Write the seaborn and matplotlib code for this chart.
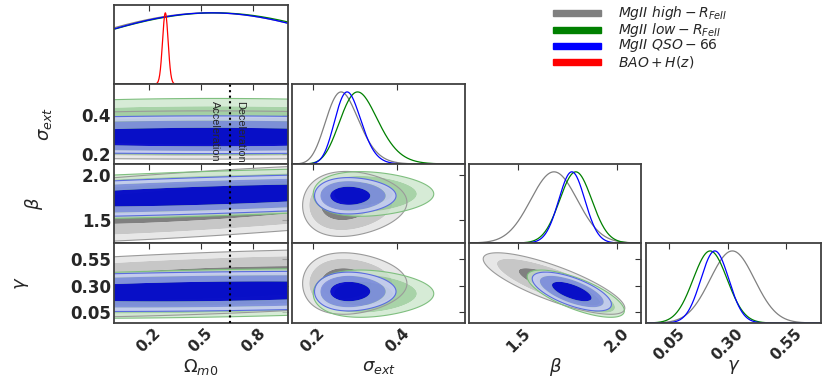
import numpy as np
import matplotlib
matplotlib.use("Agg")
import matplotlib.pyplot as plt
import seaborn as sns
from matplotlib.patches import Rectangle

# --- parameters of the triangle plot ---
param_labels = [r"$\Omega_{m0}$", r"$\sigma_{ext}$", r"$\beta$", r"$\gamma$"]
param_ranges = [(0.0, 1.0), (0.15, 0.56), (1.25, 2.12), (-0.05, 0.70)]
param_ticks = [[0.2, 0.5, 0.8], [0.2, 0.4], [1.5, 2.0], [0.05, 0.30, 0.55]]
tick_fmt = ["%.1f", "%.1f", "%.1f", "%.2f"]

# --- data sets (drawn in this order) ---
set_labels = [r"$MgII\ high-R_{FeII}$", r"$MgII\ low-R_{FeII}$", r"$MgII\ QSO-66$"]
line_colors = ["#808080", "#008000", "#0000ff"]
fill_colors = [["#606060", "#b9b9b9", "#e2e2e2"],
               ["#4fa04f", "#93c993", "#cce6cc"],
               ["#0000d4", "#808ee3", "#c6ccf4"]]
edge_colors = ["#9a9a9a", "#7fbf7f", "#5a6be0"]
fill_alpha = [0.8, 0.8, 0.9]

# Omega_m0 is barely constrained
om_mean = [0.55, 0.58, 0.56]
om_sd = [0.80, 0.80, 0.78]
# sigma_ext: median and log-width
sig_med = [0.272, 0.312, 0.284]
sig_logsd = [0.145, 0.146, 0.110]
beta_mean = [1.68, 1.79, 1.77]
beta_sd = [0.118, 0.081, 0.066]
gamma_mean = [0.32, 0.225, 0.245]
gamma_sd = [0.095, 0.073, 0.060]
# correlations between (sigma_ext, beta, gamma)
rho_sig_beta = [0.05, 0.0, 0.0]
rho_sig_gamma = [0.0, 0.0, 0.0]
rho_beta_gamma = [-0.80, -0.72, -0.66]
# drift of band centres per unit Omega_m0 (sigma in log units)
drift_sig = [0.0, 0.0, 0.0]
drift_beta = [0.12, 0.06, 0.06]
drift_gamma = [0.06, 0.03, 0.02]

bao_label = r"$BAO+H(z)$"
bao_color = "#ff0000"
bao_om_mean = 0.295
bao_om_sd = 0.016

q0_boundary = 2.0 / 3.0          # acceleration / deceleration in flat LCDM
chi2_levels = [0.0, 2.30, 5.99, 9.21]   # 68, 95, 99 per cent (2D)

W, H = 831, 382
col_px = [(114, 288), (292, 465), (469, 641), (646, 821)]
row_px = [(5, 84), (84, 164), (164, 243), (243, 323)]
xlabel_y_px = 367
ylabel_x_px = [None, 45, 34, 22]

sns.set_style("white")
plt.rcParams["font.family"] = ["DejaVu Sans"]
plt.rcParams["mathtext.fontset"] = "dejavusans"


def centre(k, p):
    # centre / width of data set k in working coords for parameter p
    if p == 0:
        return om_mean[k], om_sd[k]
    if p == 1:
        return np.log(sig_med[k]), sig_logsd[k]
    if p == 2:
        return beta_mean[k], beta_sd[k]
    return gamma_mean[k], gamma_sd[k]


def to_work(p, v):
    return np.log(v) if p == 1 else v


def corr(k, i, j):
    key = tuple(sorted((i, j)))
    table = {(1, 2): rho_sig_beta, (1, 3): rho_sig_gamma, (2, 3): rho_beta_gamma}
    return table[key][k]


def drift(k, p):
    return [None, drift_sig, drift_beta, drift_gamma][p][k]


def density_1d(k, p, x):
    m, s = centre(k, p)
    d = np.exp(-0.5 * ((to_work(p, x) - m) / s) ** 2)
    if p == 1:
        d = d / x
    return d / d.max()


def chi2_2d(k, i, j, X, Y):
    # i = column parameter (x), j = row parameter (y)
    mx, sx = centre(k, i)
    my, sy = centre(k, j)
    u = to_work(i, X)
    v = to_work(j, Y)
    if i == 0:
        ycen = my + drift(k, j) * (X - 0.5)
        return ((u - mx) / sx) ** 2 + ((v - ycen) / sy) ** 2
    r = corr(k, i, j)
    a = (u - mx) / sx
    b = (v - my) / sy
    return (a * a - 2 * r * a * b + b * b) / (1 - r * r)


def px_box(c, r):
    x0, x1 = col_px[c]
    y0, y1 = row_px[r]
    return [x0 / W, 1 - y1 / H, (x1 - x0) / W, (y1 - y0) / H]


fig = plt.figure(figsize=(W / 100, H / 100), dpi=100)

for r in range(4):
    for c in range(r + 1):
        ax = fig.add_axes(px_box(c, r))
        xs = np.linspace(*param_ranges[c], 500)
        if r == c:
            for k in range(3):
                sns.lineplot(x=xs, y=density_1d(k, c, xs), color=line_colors[k],
                             lw=0.9, ax=ax)
            if c == 0:
                bd = np.exp(-0.5 * ((xs - bao_om_mean) / bao_om_sd) ** 2)
                sns.lineplot(x=xs, y=bd / bd.max(), color=bao_color, lw=0.9, ax=ax)
            ax.set_ylim(0, 1.11)
            ax.set_yticks([])
        else:
            ys = np.linspace(*param_ranges[r], 400)
            X, Y = np.meshgrid(xs, ys)
            for k in range(3):
                chi = chi2_2d(k, c, r, X, Y)
                ax.contourf(X, Y, chi, levels=chi2_levels, colors=fill_colors[k],
                            alpha=fill_alpha[k], antialiased=True)
                ax.contour(X, Y, chi, levels=[chi2_levels[-1]], colors=edge_colors[k],
                           linewidths=0.8)
            ax.set_ylim(*param_ranges[r])
            ax.set_yticks(param_ticks[r])
            if c == 0:
                ax.set_yticklabels([tick_fmt[r] % t for t in param_ticks[r]],
                                   fontsize=12, fontweight="bold")
                ax.set_ylabel(param_labels[r], fontsize=13, va="center")
                x0, x1 = col_px[0]
                ax.yaxis.set_label_coords((ylabel_x_px[r] - x0) / (x1 - x0), 0.5)
            else:
                ax.set_yticklabels([])
            if c == 0:
                ax.axvline(q0_boundary, color="black", ls=":", lw=1.5, zorder=5)
                if r == 1:
                    tr = ax.get_xaxis_transform()
                    ax.text(q0_boundary - 0.085, 0.79, "Acceleration", rotation=270,
                            ha="center", va="top", transform=tr, fontsize=7.8,
                            family="Liberation Sans", zorder=6)
                    ax.text(q0_boundary + 0.06, 0.79, "Deceleration", rotation=270,
                            ha="center", va="top", transform=tr, fontsize=7.8,
                            family="Liberation Sans", zorder=6)
        ax.set_xlim(*param_ranges[c])
        ax.set_xticks(param_ticks[c])
        if r == 3:
            ax.set_xticklabels([tick_fmt[c] % t for t in param_ticks[c]],
                               fontsize=11, fontweight="bold", rotation=45, ha="center")
            ax.set_xlabel(param_labels[c], fontsize=13, va="center")
            y0, y1 = row_px[3]
            ax.xaxis.set_label_coords(0.5, (y1 - xlabel_y_px) / (y1 - y0))
        else:
            ax.set_xticklabels([])
        ax.tick_params(direction="in", top=True, right=(r != c), length=4,
                       width=0.8, color="#333333", pad=2)
        for sp in ax.spines.values():
            sp.set_color("#404040")
            sp.set_linewidth(1.3)

# legend, laid out by hand to keep the tight row spacing
legend_rows_px = [13, 30, 46, 62]
for lab, col, ypx in zip(set_labels + [bao_label], line_colors + [bao_color],
                         legend_rows_px):
    fig.patches.append(Rectangle((553 / W, 1 - (ypx + 3) / H), 48 / W, 6 / H,
                                 color=col, transform=fig.transFigure))
    fig.text(618 / W, 1 - ypx / H, lab, fontsize=10, va="center", ha="left")

fig.savefig("out.png", dpi=100)
